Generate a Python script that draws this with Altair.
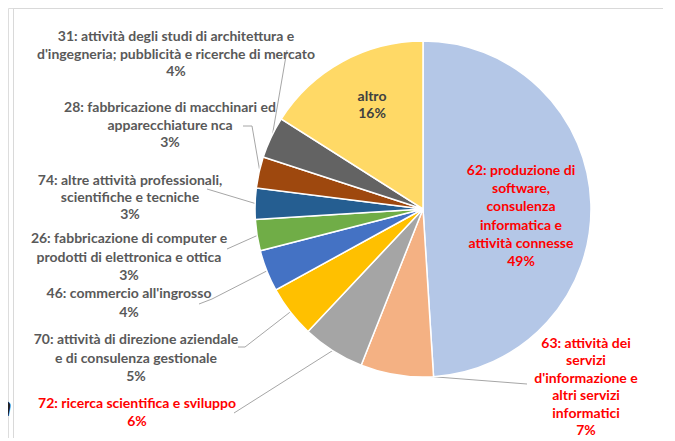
import math
import altair as alt
import pandas as pd

# ---------------- data ----------------
codes = ["62", "63", "72", "70", "46", "26", "74", "28", "31", "altro"]
values = [49, 7, 6, 5, 4, 3, 3, 3, 4, 16]
colors = ["#B4C7E7", "#F4B183", "#A5A5A5", "#FFC000", "#4472C4",
          "#70AD47", "#255E91", "#9E480E", "#636363", "#FFD966"]
label_text = {
    "62": ["62: produzione di", "software,", "consulenza", "informatica e", "attività connesse"],
    "63": ["63: attività dei", "servizi", "d'informazione  e", "altri servizi", "informatici"],
    "72": ["72: ricerca scientifica e sviluppo"],
    "70": ["70: attività di direzione aziendale", "e di consulenza gestionale"],
    "46": ["46: commercio all'ingrosso"],
    "26": ["26: fabbricazione di computer e", "prodotti di elettronica e ottica"],
    "74": ["74: altre attività professionali,", "scientifiche e tecniche"],
    "28": ["28: fabbricazione di macchinari ed", "apparecchiature nca"],
    "31": ["31: attività degli studi di architettura e", "d'ingegneria; pubblicità e ricerche di mercato"],
    "altro": ["altro"],
}
highlight = ["62", "63", "72"]

# ---------------- layout (annotation placement, page pixels) ----------------
OFF = 8
W, H = 655, 430
CX, CY, R = 423 - OFF, 209 - OFF, 168
label_pos = {  # center x, first line y, line step
    "62": (521, 171, 18.2), "63": (586, 344, 17.4), "72": (137, 404, 17.5),
    "70": (136, 340, 18.5), "46": (129, 294, 19.0), "26": (129, 239, 18.5),
    "74": (130, 181, 17.0), "28": (170, 108, 17.5), "31": (176, 37, 17.5),
    "altro": (372, 97, 17.0),
}
leader_start = {
    "63": [(527, 384)], "72": [(234, 413)], "70": [(238, 347), (245, 347)],
    "46": [(199, 304), (212, 299)], "26": [(227, 249)], "74": [(207, 189)],
    "28": [(243, 126), (252, 126)], "31": [(287, 50)],
}

pie_df = pd.DataFrame({"code": codes, "value": values, "idx": list(range(len(codes)))})

# text rows
rows = []
for c, v in zip(codes, values):
    cx, y0, step = label_pos[c]
    lines = label_text[c] + [f"{v}%"]
    col = "#FF0000" if c in highlight else ("#404040" if c == "altro" else "#595959")
    for i, t in enumerate(lines):
        rows.append({"t": t, "x": cx - OFF, "y": y0 + i * step - OFF, "col": col})
text_df = pd.DataFrame(rows)

# leader lines: from label to the slice edge at its mid angle
total = sum(values)
cum = 0
lrows = []
for c, v in zip(codes, values):
    mid = (cum + v / 2) / total * 2 * math.pi
    cum += v
    if c not in leader_start:
        continue
    pts = [(x - OFF, y - OFF) for x, y in leader_start[c]]
    pts.append((CX + (R - 1) * math.sin(mid), CY - (R - 1) * math.cos(mid)))
    for k, (x, y) in enumerate(pts):
        lrows.append({"code": c, "k": k, "x": x, "y": y})
lead_df = pd.DataFrame(lrows)

pie = alt.Chart(pie_df).mark_arc(outerRadius=R, stroke="white", strokeWidth=1.5).encode(
    theta=alt.Theta("value:Q", stack=True),
    order=alt.Order("idx:Q"),
    color=alt.Color("code:N", scale=alt.Scale(domain=codes, range=colors), legend=None),
    x=alt.value(CX), y=alt.value(CY),
)

leaders = alt.Chart(lead_df).mark_line(color="#A6A6A6", strokeWidth=1).encode(
    x=alt.X("x:Q", scale=None, axis=None),
    y=alt.Y("y:Q", scale=None, axis=None),
    detail="code:N",
    order="k:Q",
)

labels = alt.Chart(text_df).mark_text(
    font="Lato", fontSize=14, fontWeight="bold", align="center", baseline="middle"
).encode(
    x=alt.X("x:Q", scale=None, axis=None),
    y=alt.Y("y:Q", scale=None, axis=None),
    text="t:N",
    color=alt.Color("col:N", scale=None),
)

frame_df = pd.DataFrame({"x": [5.5, 5.5, W], "y": [H, 0.5, 0.5], "k": [0, 1, 2]})
frame = alt.Chart(frame_df).mark_line(color="#D9D9D9", strokeWidth=1).encode(
    x=alt.X("x:Q", scale=None, axis=None),
    y=alt.Y("y:Q", scale=None, axis=None),
    order="k:Q",
)

frag = alt.Chart(pd.DataFrame({"t": ["a"]})).mark_text(
    font="DejaVu Sans", fontSize=26, fontWeight="bold", fontStyle="italic",
    align="right", baseline="middle", color="#222222"
).encode(text="t:N", x=alt.value(4), y=alt.value(400))

chart = alt.layer(frame, leaders, pie, labels, frag).properties(
    width=W, height=H, autosize=alt.AutoSizeParams(type="none"), padding=0
).configure_view(stroke=None).configure(background="white")

chart.save("out.html", embed_options={"renderer": "svg", "actions": False})
